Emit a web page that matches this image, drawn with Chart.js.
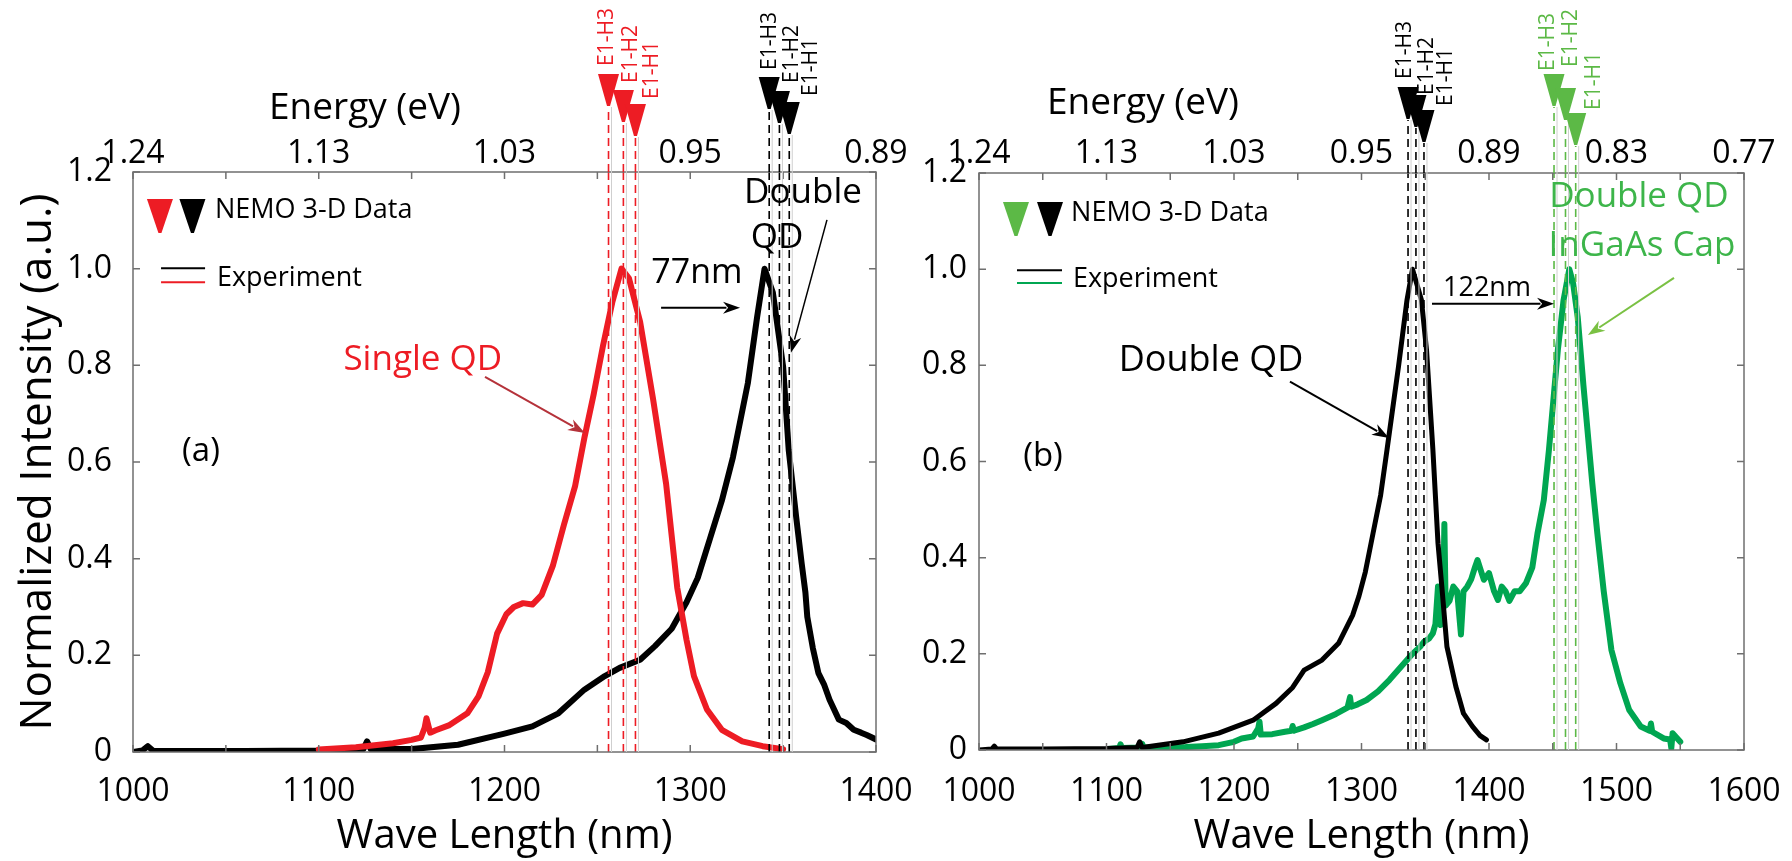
<!doctype html>
<html lang="en">

<head>
    <meta charset="utf-8">
    <title>QD photoluminescence vs NEMO 3-D</title>
    <script src="https://cdn.jsdelivr.net/npm/chart.js@4.4.1/dist/chart.umd.min.js"></script>
    <style>
        body { margin: 0; background: #fff; }
        #wrap { position: relative; width: 1792px; height: 861px; overflow: hidden; }
        canvas { position: absolute; top: 0; }
    </style>
</head>

<body>
    <div id="wrap">
        <canvas id="chartA" width="960" height="861" style="left:0"></canvas>
        <canvas id="chartB" width="892" height="861" style="left:900px"></canvas>
    </div>

    <script>
        //-----------------------------------
        // data
        //-----------------------------------
        // tick labels
        const waveLabelsA = ['1000', '1100', '1200', '1300', '1400'];
        const energyLabelsA = ['1.24', '1.13', '1.03', '0.95', '0.89'];
        const waveLabelsB = ['1000', '1100', '1200', '1300', '1400', '1500', '1600'];
        const energyLabelsB = ['1.24', '1.13', '1.03', '0.95', '0.89', '0.83', '0.77'];
        const intensityLabels = ['0', '0.2', '0.4', '0.6', '0.8', '1.0', '1.2'];
        const transitionNames = ['E1-H3', 'E1-H2', 'E1-H1'];

        // (a) single QD experiment (red)
        const singleWl = [1100, 1120, 1140, 1150, 1155, 1157, 1158, 1160, 1163, 1170, 1180, 1186, 1191, 1196, 1201, 1205,
            1210, 1215, 1220, 1226, 1232, 1238, 1243, 1248, 1253, 1258, 1263, 1267, 1273, 1280, 1287, 1293, 1298, 1302,
            1309, 1317, 1328, 1339, 1350];
        const singleInt = [0.005, 0.01, 0.018, 0.025, 0.03, 0.05, 0.07, 0.04, 0.045, 0.055, 0.08, 0.115, 0.165, 0.245,
            0.285, 0.3, 0.308, 0.305, 0.325, 0.385, 0.47, 0.55, 0.65, 0.74, 0.84, 0.93, 1.0, 0.98, 0.89, 0.73, 0.555,
            0.34, 0.232, 0.157, 0.088, 0.046, 0.022, 0.012, 0.006];

        // (a) double QD experiment (black)
        const doubleWlA = [1000, 1005, 1008, 1011, 1020, 1060, 1100, 1124, 1126, 1128, 1150, 1175, 1200, 1215, 1229,
            1243, 1254, 1262, 1273, 1281, 1290, 1298, 1304, 1311, 1317, 1323, 1331, 1336, 1340, 1344.5, 1350, 1353,
            1357, 1360, 1362, 1363, 1366, 1369, 1372, 1375, 1380, 1384, 1388, 1392, 1395, 1400];
        const doubleIntA = [0, 0.003, 0.012, 0.002, 0.002, 0.002, 0.003, 0.006, 0.022, 0.006, 0.006, 0.015, 0.038,
            0.053, 0.08, 0.129, 0.157, 0.174, 0.191, 0.219, 0.255, 0.31, 0.36, 0.446, 0.52, 0.61, 0.763, 0.9, 1.0,
            0.95, 0.797, 0.625, 0.487, 0.39, 0.33, 0.28, 0.215, 0.163, 0.14, 0.108, 0.067, 0.06, 0.046, 0.04, 0.035,
            0.026];

        // (b) double QD experiment (black)
        const doubleWlB = [1000, 1010, 1012, 1014, 1050, 1100, 1124, 1126, 1128, 1160, 1188, 1215, 1233, 1246, 1255,
            1269, 1282, 1293, 1298, 1303, 1309, 1315, 1320, 1329, 1335.7, 1340, 1347, 1351, 1356, 1360, 1363, 1367,
            1374, 1380, 1387, 1393, 1398];
        const doubleIntB = [0, 0.002, 0.008, 0.002, 0.002, 0.003, 0.005, 0.017, 0.005, 0.017, 0.035, 0.062, 0.097,
            0.13, 0.166, 0.187, 0.222, 0.28, 0.32, 0.37, 0.45, 0.53, 0.624, 0.797, 0.936, 1.0, 0.936, 0.832, 0.624,
            0.43, 0.34, 0.215, 0.132, 0.076, 0.049, 0.03, 0.021];

        // (b) double QD with InGaAs cap experiment (green)
        const cappedWl = [1101, 1110, 1111, 1112, 1127, 1128, 1129, 1150, 1162, 1175, 1188, 1200, 1206, 1215, 1219,
            1220, 1221, 1230, 1240, 1245, 1246, 1247, 1255, 1262, 1269, 1280, 1289, 1291, 1292, 1297, 1304, 1313, 1322,
            1331, 1340, 1346, 1349, 1353, 1356, 1358, 1360, 1362, 1364, 1365, 1366, 1369, 1372, 1375, 1378, 1380, 1383,
            1386, 1389, 1391, 1394, 1396, 1400, 1404, 1407, 1410, 1413, 1416, 1420, 1424, 1429, 1434, 1438, 1443, 1447,
            1454, 1458.5, 1463, 1466, 1469.6, 1474, 1481, 1485, 1490, 1496, 1503, 1510, 1519, 1526, 1527, 1528, 1537,
            1542, 1543, 1544, 1550];
        const cappedInt = [0.002, 0.004, 0.012, 0.004, 0.005, 0.013, 0.005, 0.005, 0.006, 0.008, 0.01, 0.017, 0.024,
            0.028, 0.045, 0.059, 0.032, 0.033, 0.038, 0.04, 0.05, 0.04, 0.047, 0.054, 0.062, 0.075, 0.088, 0.11, 0.09,
            0.095, 0.104, 0.122, 0.146, 0.173, 0.2, 0.215, 0.225, 0.232, 0.243, 0.262, 0.34, 0.26, 0.3, 0.47, 0.3, 0.31,
            0.34, 0.33, 0.24, 0.33, 0.34, 0.355, 0.38, 0.395, 0.37, 0.354, 0.368, 0.33, 0.312, 0.34, 0.33, 0.31, 0.33,
            0.33, 0.347, 0.38, 0.45, 0.52, 0.624, 0.832, 0.936, 1.0, 0.97, 0.9, 0.76, 0.555, 0.45, 0.33, 0.208, 0.139,
            0.083, 0.049, 0.04, 0.055, 0.038, 0.024, 0.022, 0.004, 0.035, 0.017];

        // NEMO 3-D transition wavelengths (E1-H3, E1-H2, E1-H1)
        const nemoSingle = [1256, 1264, 1270.5];
        const nemoDoubleA = [1342.5, 1348, 1353.3];
        const nemoDoubleB = [1336.5, 1342.7, 1349];
        const nemoCapped = [1451, 1460, 1468];

        //-----------------------------------
        // styles
        //-----------------------------------
        const RED = '#ed1c24';
        const GREEN = '#00a651';
        const LIGHTGREEN = '#5cb946';
        const FONT = "'Open Sans', sans-serif";

        Chart.defaults.font.family = FONT;
        Chart.defaults.color = '#000';

        function pts(xs, ys) {
            return xs.map((x, i) => ({ x: x, y: ys[i] }));
        }

        function curve(xs, ys, color, width) {
            return {
                data: pts(xs, ys), showLine: true, borderColor: color, borderWidth: width,
                pointRadius: 0, tension: 0, borderJoinStyle: 'round', borderCapStyle: 'round'
            };
        }

        function dashedLines(wls, color) {
            const top = Number(intensityLabels[intensityLabels.length - 1]);
            return wls.map(w => ({
                data: [{ x: w, y: 0 }, { x: w, y: top }], showLine: true, borderColor: color,
                borderWidth: 1.6, borderDash: [8, 5], pointRadius: 0
            }));
        }

        function tickFrom(labels, shown) {
            return function (v) {
                const i = labels.findIndex(l => Number(l) === v);
                return i >= 0 ? shown[i] : '';
            };
        }

        function tri(ctx, cx, tipY, w, h, color) {
            ctx.fillStyle = color;
            ctx.beginPath();
            ctx.moveTo(cx - w / 2, tipY - h);
            ctx.lineTo(cx + w / 2, tipY - h);
            ctx.lineTo(cx + 1.5, tipY - 1);
            ctx.lineTo(cx - 1.5, tipY - 1);
            ctx.closePath();
            ctx.fill();
        }

        function arrow(ctx, x1, y1, x2, y2, color, width) {
            const a = Math.atan2(y2 - y1, x2 - x1);
            const hl = 17, hw = 6;
            ctx.strokeStyle = color;
            ctx.fillStyle = color;
            ctx.lineWidth = width;
            ctx.beginPath();
            ctx.moveTo(x1, y1);
            ctx.lineTo(x2 - Math.cos(a) * hl * 0.8, y2 - Math.sin(a) * hl * 0.8);
            ctx.stroke();
            ctx.beginPath();
            ctx.moveTo(x2, y2);
            ctx.lineTo(x2 - Math.cos(a) * hl - Math.sin(a) * hw, y2 - Math.sin(a) * hl + Math.cos(a) * hw);
            ctx.lineTo(x2 - Math.cos(a) * hl * 0.7, y2 - Math.sin(a) * hl * 0.7);
            ctx.lineTo(x2 - Math.cos(a) * hl + Math.sin(a) * hw, y2 - Math.sin(a) * hl - Math.cos(a) * hw);
            ctx.closePath();
            ctx.fill();
        }

        //-----------------------------------
        // frame, inward ticks, markers, notes
        //-----------------------------------
        const decor = {
            id: 'decor',
            afterDatasetsDraw(chart, args, o) {
                const ctx = chart.ctx;
                const area = chart.chartArea;
                const sx = chart.scales.x, sy = chart.scales.y, st = chart.scales.x2;
                const px = v => sx.getPixelForValue(v);
                const py = v => sy.getPixelForValue(v);
                ctx.save();

                // box and ticks
                ctx.strokeStyle = '#6f6f6f';
                ctx.lineWidth = 1.5;
                ctx.strokeRect(area.left, area.top, area.right - area.left, area.bottom - area.top);
                ctx.beginPath();
                sx.ticks.forEach(t => { const x = px(t.value); ctx.moveTo(x, area.bottom); ctx.lineTo(x, area.bottom - 7); });
                st.ticks.forEach(t => { const x = st.getPixelForValue(t.value); ctx.moveTo(x, area.top); ctx.lineTo(x, area.top + 7); });
                sy.ticks.forEach(t => {
                    const y = py(t.value);
                    ctx.moveTo(area.left, y); ctx.lineTo(area.left + 7, y);
                    ctx.moveTo(area.right, y); ctx.lineTo(area.right - 7, y);
                });
                ctx.stroke();

                // NEMO markers above the plot
                o.markers.forEach(m => {
                    m.wl.forEach((w, i) => {
                        const x = px(w), tip = area.top - m.lift[i];
                        ctx.setLineDash([]);
                        ctx.strokeStyle = '#cfcfcf';
                        ctx.lineWidth = 1;
                        ctx.beginPath(); ctx.moveTo(x + 3, area.bottom); ctx.lineTo(x + 3, tip); ctx.stroke();
                        ctx.strokeStyle = m.color;
                        ctx.lineWidth = 1.6;
                        ctx.setLineDash([8, 5]);
                        ctx.beginPath(); ctx.moveTo(x, area.top); ctx.lineTo(x, tip); ctx.stroke();
                    });
                    ctx.setLineDash([]);
                    m.wl.forEach((w, i) => {
                        const x = px(w), tip = area.top - m.lift[i];
                        tri(ctx, x, tip, 21, 33, m.color);
                        ctx.save();
                        ctx.translate(x + m.dx[i], tip + m.dy[i]);
                        ctx.rotate(-Math.PI / 2);
                        ctx.fillStyle = m.color;
                        ctx.font = '21px ' + FONT;
                        ctx.textAlign = 'center';
                        ctx.textBaseline = 'middle';
                        ctx.fillText(transitionNames[i], 0, 0);
                        ctx.restore();
                    });
                });

                // legend
                const lg = o.legend;
                tri(ctx, px(lg.tri[0]), py(lg.triY) + 17, 26, 35, lg.colors[0]);
                tri(ctx, px(lg.tri[1]), py(lg.triY) + 17, 26, 35, '#000');
                ctx.lineWidth = 2;
                ctx.strokeStyle = '#000';
                ctx.beginPath(); ctx.moveTo(px(lg.line[0]), py(lg.lineY[0])); ctx.lineTo(px(lg.line[1]), py(lg.lineY[0])); ctx.stroke();
                ctx.strokeStyle = lg.colors[1];
                ctx.beginPath(); ctx.moveTo(px(lg.line[0]), py(lg.lineY[1])); ctx.lineTo(px(lg.line[1]), py(lg.lineY[1])); ctx.stroke();

                // arrows
                o.arrows.forEach(a => arrow(ctx, px(a.from[0]), py(a.from[1]), px(a.to[0]), py(a.to[1]), a.color, a.width));

                // text notes
                o.notes.forEach(n => {
                    ctx.fillStyle = n.color || '#000';
                    ctx.font = n.size + 'px ' + FONT;
                    ctx.textAlign = n.align || 'center';
                    ctx.textBaseline = 'middle';
                    ctx.fillText(n.text, px(n.x), py(n.y));
                });
                ctx.restore();
            }
        };

        // keep the edge labels from squeezing the plot area
        function fixX(h) {
            return s => { s.height = h; s.paddingLeft = 0; s.paddingRight = 0; };
        }

        function makeChart(id, cfg) {
            const ctx = document.getElementById(id);
            return new Chart(ctx, {
                type: 'scatter',
                data: { datasets: cfg.datasets },
                options: {
                    responsive: false,
                    animation: false,
                    devicePixelRatio: 1,
                    layout: { padding: { left: 0, top: 0, right: cfg.padRight, bottom: 0 } },
                    plugins: { legend: { display: false }, tooltip: { enabled: false }, decor: cfg.decor },
                    scales: {
                        x: {
                            type: 'linear', position: 'bottom',
                            min: Number(cfg.waveLabels[0]), max: Number(cfg.waveLabels[cfg.waveLabels.length - 1]),
                            grid: { display: false, drawTicks: false }, border: { display: false },
                            ticks: {
                                stepSize: 50, autoSkip: false, maxRotation: 0, padding: cfg.bottomPad,
                                font: { size: 32, lineHeight: 1 },
                                callback: tickFrom(cfg.waveLabels, cfg.waveLabels)
                            },
                            title: { display: true, text: 'Wave Length (nm)', font: { size: 40 }, padding: { top: 0, bottom: 0 } },
                            afterFit: fixX(cfg.bottomH)
                        },
                        x2: {
                            type: 'linear', position: 'top',
                            min: Number(cfg.waveLabels[0]), max: Number(cfg.waveLabels[cfg.waveLabels.length - 1]),
                            grid: { display: false, drawTicks: false }, border: { display: false },
                            ticks: {
                                stepSize: 50, autoSkip: false, maxRotation: 0, padding: cfg.topPad,
                                font: { size: 32, lineHeight: 1 },
                                callback: tickFrom(cfg.waveLabels, cfg.energyLabels)
                            },
                            afterFit: fixX(cfg.topH)
                        },
                        y: {
                            type: 'linear', position: 'left',
                            min: 0, max: Number(intensityLabels[intensityLabels.length - 1]),
                            grid: { display: false, drawTicks: false }, border: { display: false },
                            ticks: {
                                stepSize: 0.2, padding: cfg.leftPad, font: { size: 32, lineHeight: 1 },
                                callback: (v, i) => intensityLabels[i]
                            },
                            title: {
                                display: cfg.yTitle, text: 'Normalized Intensity (a.u.)', font: { size: 44 },
                                padding: { top: 12, bottom: 0 }
                            },
                            afterFit: s => { s.width = cfg.leftW; }
                        }
                    }
                },
                plugins: [decor]
            });
        }

        // panel (a)
        makeChart('chartA', {
            datasets: [
                ...dashedLines(nemoSingle, RED),
                ...dashedLines(nemoDoubleA, '#000'),
                curve(singleWl, singleInt, RED, 6),
                curve(doubleWlA, doubleIntA, '#000', 6)
            ],
            waveLabels: waveLabelsA, energyLabels: energyLabelsA,
            padRight: 84, bottomH: 109, topH: 172, leftW: 133,
            bottomPad: 24, topPad: 2, leftPad: 21, yTitle: true,
            decor: {
                markers: [
                    { wl: nemoSingle, color: RED, lift: [65, 49, 35], dx: [-2, 8, 17], dy: [-70, -69, -67] },
                    { wl: nemoDoubleA, color: '#000', lift: [62, 48, 37], dx: [1, 13, 22], dy: [-69, -70, -68] }
                ],
                legend: { tri: [1014.5, 1032], triY: 1.107, line: [1015.1, 1038.8], lineY: [1.001, 0.972], colors: [RED, RED] },
                arrows: [
                    { from: [1189.5, 0.776], to: [1243.3, 0.66], color: '#b5323a', width: 2 },
                    { from: [1284.3, 0.919], to: [1326.8, 0.919], color: '#000', width: 2 },
                    { from: [1373.6, 1.101], to: [1354.2, 0.826], color: '#000', width: 1.5 }
                ],
                notes: [
                    { text: 'Energy (eV)', x: 1124.9, y: 1.332, size: 37 },
                    { text: 'NEMO 3-D Data', x: 1044.1, y: 1.121, size: 27, align: 'left' },
                    { text: 'Experiment', x: 1045.2, y: 0.981, size: 27, align: 'left' },
                    { text: 'Single QD', x: 1156, y: 0.811, size: 35, color: RED },
                    { text: '(a)', x: 1036.6, y: 0.621, size: 33 },
                    { text: '77nm', x: 1303.6, y: 0.991, size: 34 },
                    { text: 'Double', x: 1360.7, y: 1.157, size: 35 },
                    { text: 'QD', x: 1346.7, y: 1.063, size: 35 }
                ]
            }
        });

        // panel (b)
        makeChart('chartB', {
            datasets: [
                ...dashedLines(nemoDoubleB, '#000'),
                ...dashedLines(nemoCapped, LIGHTGREEN),
                curve(doubleWlB, doubleIntB, '#000', 5),
                curve(cappedWl, cappedInt, GREEN, 6)
            ],
            waveLabels: waveLabelsB, energyLabels: energyLabelsB,
            padRight: 48, bottomH: 111, topH: 173, leftW: 79,
            bottomPad: 26, topPad: 3, leftPad: 12, yTitle: false,
            decor: {
                markers: [
                    { wl: nemoDoubleB, color: '#000', lift: [53, 45, 30], dx: [-3, 11, 22], dy: [-70, -62, -66] },
                    { wl: nemoCapped, color: LIGHTGREEN, lift: [66, 52, 27], dx: [-6, 6, 18], dy: [-65, -83, -65] }
                ],
                legend: { tri: [1029, 1055.7], triY: 1.102, line: [1029.8, 1065.1], lineY: [0.998, 0.971], colors: [LIGHTGREEN, GREEN] },
                arrows: [
                    { from: [1545.1, 0.982], to: [1477.6, 0.863], color: '#7ac143', width: 2 },
                    { from: [1355.3, 0.928], to: [1451, 0.928], color: '#000', width: 2 },
                    { from: [1243.9, 0.766], to: [1321.6, 0.649], color: '#000', width: 2 }
                ],
                notes: [
                    { text: 'Energy (eV)', x: 1128.6, y: 1.344, size: 37 },
                    { text: 'NEMO 3-D Data', x: 1072.2, y: 1.117, size: 27, align: 'left' },
                    { text: 'Experiment', x: 1073.7, y: 0.978, size: 27, align: 'left' },
                    { text: 'Double QD', x: 1517.6, y: 1.150, size: 35, color: '#3db54a' },
                    { text: 'InGaAs Cap', x: 1520, y: 1.048, size: 35, color: '#3db54a' },
                    { text: '122nm', x: 1398.4, y: 0.961, size: 27 },
                    { text: 'Double QD', x: 1182, y: 0.809, size: 36 },
                    { text: '(b)', x: 1050.2, y: 0.610, size: 33 }
                ]
            }
        });
    </script>
</body>

</html>
